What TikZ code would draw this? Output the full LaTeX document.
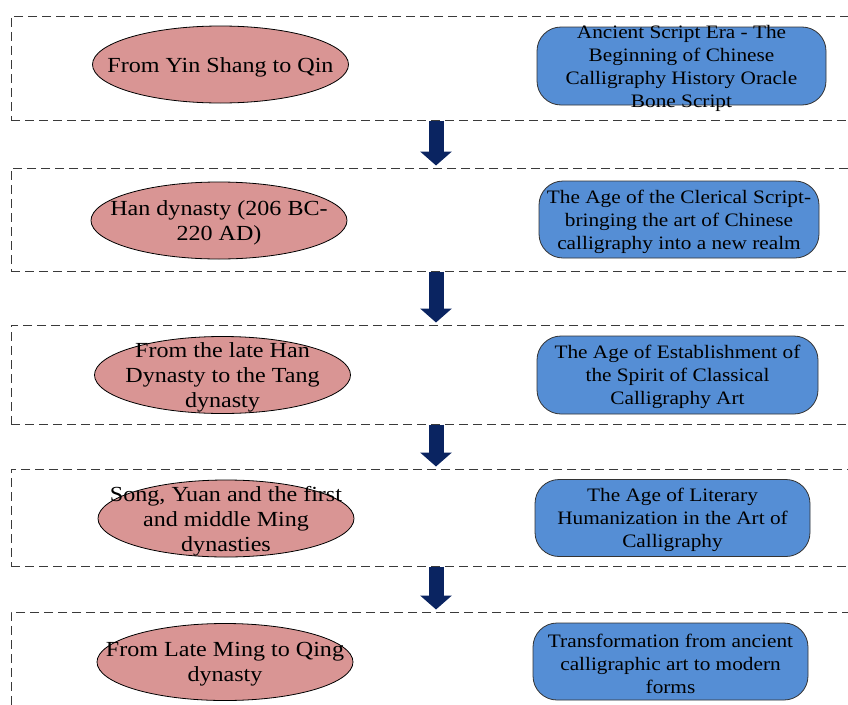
\documentclass[tikz,border=0pt]{standalone}
\usepackage{fontspec}
\setmainfont{Liberation Serif}[FakeStretch=1.12]
\usetikzlibrary{shapes.geometric,arrows.meta,calc}
\definecolor{erafill}{HTML}{D99594}
\definecolor{agefill}{HTML}{558ED5}
\definecolor{navyarrow}{HTML}{0A2461}
\definecolor{dashgray}{HTML}{3A3A3A}
\tikzset{
  stage/.style={draw=dashgray, line width=1pt, dash pattern=on 9pt off 5pt, rectangle, minimum width=850pt, inner sep=0pt},
  era/.style={draw=black, line width=0.8pt, fill=erafill, ellipse, minimum width=256pt, minimum height=77pt, inner sep=0pt},
  eratext/.style={align=center, font=\fontsize{21.5}{25}\selectfont, inner sep=0pt, yshift=-2.5pt},
  age/.style={draw=black!80, line width=0.8pt, fill=agefill, rectangle, rounded corners=24pt, inner sep=0pt},
  agetext/.style={align=center, font=\fontsize{19}{23}\selectfont, inner sep=0pt, yshift=-2pt},
  flow/.style={navyarrow, line width=15pt, -{Triangle[width=31pt,length=14pt]}}
}
\begin{document}
\begin{tikzpicture}[x=1pt,y=-1pt]
\useasboundingbox (0,0) rectangle (848,704);
\clip (0,0) rectangle (848,704);
\fill[white] (0,0) rectangle (848,704);
% stage frames
\node[stage, minimum height=104pt] (s1) at (436,68) {};
\node[stage, minimum height=103pt] (s2) at (436,219.5) {};
\node[stage, minimum height=99pt] (s3) at (436,374.5) {};
\node[stage, minimum height=97pt] (s4) at (436,517.5) {};
\node[stage, minimum height=120pt] (s5) at (436,672) {};
% arrows
\draw[flow] (s1.south) -- ($(s2.north)+(0,-2)$);
\draw[flow] (s2.south) -- ($(s3.north)+(0,-2)$);
\draw[flow] (s3.south) -- ($(s4.north)+(0,-2)$);
\draw[flow] (s4.south) -- ($(s5.north)+(0,-2)$);
% eras
\node[era] (e1) at (220.5,64.5) {};
\node[eratext] (t1) at (e1) {From Yin Shang to Qin};
\node[era] (e2) at (219,220.5) {};
\node[eratext] (t2) at (e2) {Han dynasty (206 BC-\\220 AD)};
\node[era] (e3) at (222.5,375) {};
\node[eratext] (t3) at (e3) {From the late Han\\Dynasty to the Tang\\dynasty};
\node[era] (e4) at (226,518.5) {};
\node[eratext] (t4) at (e4) {Song, Yuan and the first\\and middle Ming\\dynasties};
\node[era] (e5) at (225,662) {};
\node[eratext] (t5) at (e5) {From Late Ming to Qing\\dynasty};
% ages
\node[age, minimum width=289pt, minimum height=78pt] (a1) at (681.5,66) {};
\node[agetext] (u1) at (a1) {Ancient Script Era - The\\Beginning of Chinese\\Calligraphy History Oracle\\Bone Script};
\node[age, minimum width=280pt, minimum height=77pt] (a2) at (679,219.5) {};
\node[agetext] (u2) at (a2) {The Age of the Clerical Script-\\bringing the art of Chinese\\calligraphy into a new realm};
\node[age, minimum width=281pt, minimum height=78pt] (a3) at (677.5,375) {};
\node[agetext] (u3) at (a3) {The Age of Establishment of\\the Spirit of Classical\\Calligraphy Art};
\node[age, minimum width=275pt, minimum height=77pt] (a4) at (672.5,518) {};
\node[agetext] (u4) at (a4) {The Age of Literary\\Humanization in the Art of\\Calligraphy};
\node[age, minimum width=275pt, minimum height=77pt] (a5) at (670.5,661.5) {};
\node[agetext] (u5) at (a5) {Transformation from ancient\\calligraphic art to modern\\forms};
\end{tikzpicture}
\end{document}
